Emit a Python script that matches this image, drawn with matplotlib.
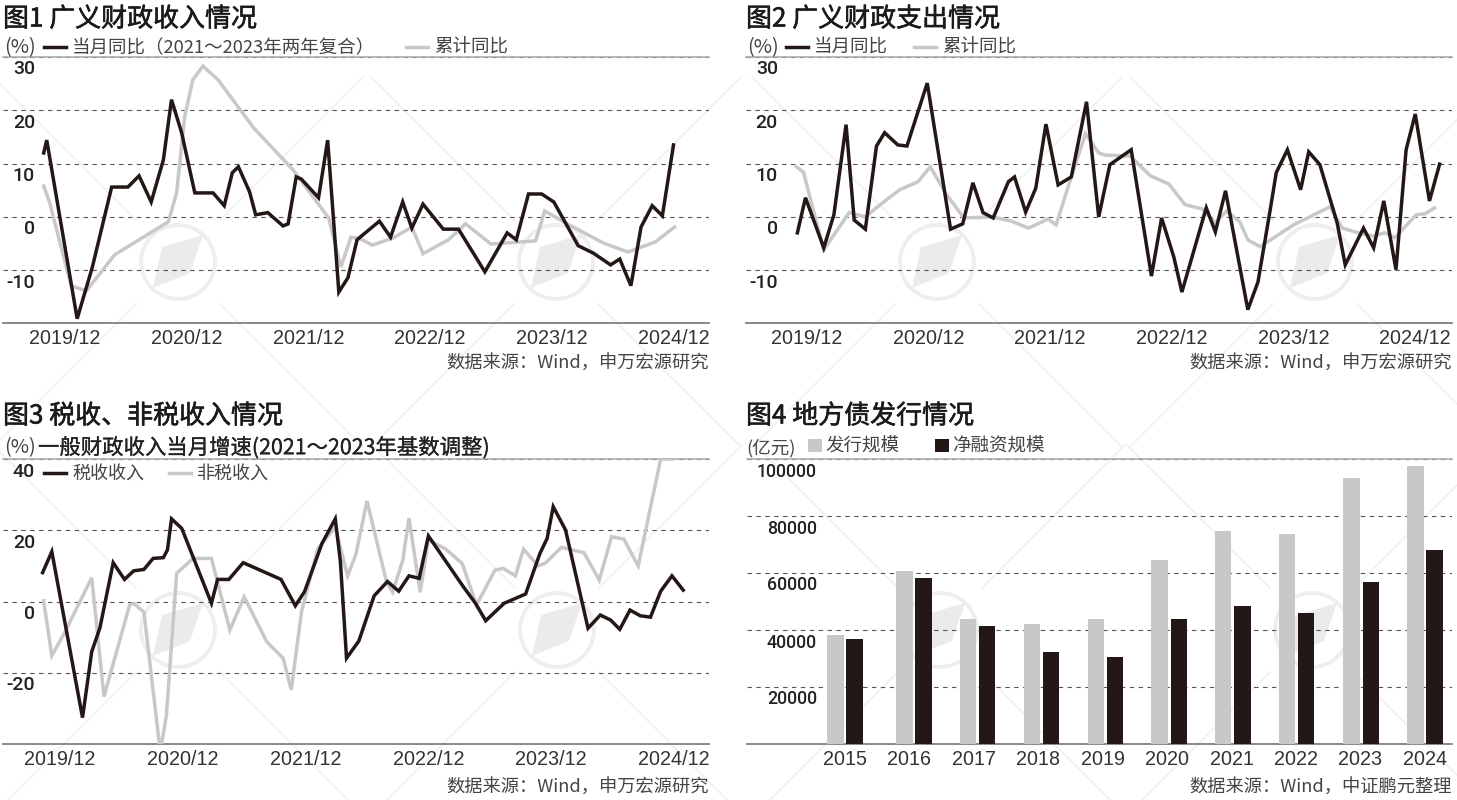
import matplotlib
matplotlib.use("Agg")
import matplotlib.pyplot as plt
import matplotlib.patheffects as pe
from matplotlib.transforms import ScaledTranslation
from matplotlib.patches import Circle, Polygon

CJK = ['Noto Sans CJK SC', 'DejaVu Sans']
plt.rcParams['font.family'] = CJK

W, H = 1457, 800
BLACK = '#231815'
GRAY = '#c8c8c8'
TXT = '#444444'

year_labels = ['2019/12', '2020/12', '2021/12', '2022/12', '2023/12', '2024/12']
year_ticks = [0, 12, 24, 36, 48, 60]

# months after 2019/12 and percent values
fig1_month_m = [-2.1,-1.8,1.2,2.7,4.6,6.2,7.3,8.5,9.7,10.5,11.5,12.8,14.6,15.7,16.5,17.1,18.2,18.8,20.0,21.5,22.0,22.8,23.3,25.0,25.9,27.0,27.9,28.8,29.1,31.0,32.1,33.3,34.2,35.3,37.3,38.8,41.4,43.6,44.5,45.7,47.0,48.2,50.6,52.1,53.8,54.7,55.8,56.8,57.9,58.9,60.0]
fig1_month_v = [12.0,14.4,-19.1,-9.4,5.6,5.6,7.7,2.8,10.7,22.0,15.8,4.5,4.5,2.1,8.3,9.4,4.7,0.4,0.8,-1.7,-1.3,7.5,7.1,3.6,14.4,-14.1,-11.4,-4.3,-3.8,-0.8,-3.8,2.8,-2.1,2.4,-2.3,-2.3,-10.3,-3.0,-4.3,4.3,4.3,2.8,-5.4,-6.8,-9.0,-7.9,-12.9,-1.9,2.1,0.2,13.5]
fig1_cum_m = [-2.1,-1.5,0.6,2.1,4.9,10.2,11.0,11.8,12.6,13.6,15.1,18.6,22.5,26.0,27.2,28.2,29.1,30.3,32.4,34.2,35.3,37.8,39.5,42.0,46.4,47.3,50.1,53.1,55.5,58.2,60.1]
fig1_cum_v = [5.8,2.6,-12.9,-13.9,-7.1,-0.9,4.5,18.8,25.7,28.3,25.7,16.7,8.8,-0.2,-9.4,-3.8,-4.1,-5.3,-3.9,-1.9,-6.9,-4.3,-1.3,-5.1,-4.5,1.1,-1.9,-4.9,-6.6,-4.7,-1.9]

fig2_month_m = [-0.9,-0.1,1.7,2.7,3.9,4.7,5.8,6.9,7.7,9.0,9.9,11.9,14.2,15.4,16.4,17.4,18.4,19.9,20.5,21.6,22.6,23.6,24.8,26.1,27.6,28.8,29.9,32.0,34.0,35.0,36.2,37.0,39.4,40.3,41.3,43.5,44.5,45.7,46.3,47.4,48.7,49.5,50.6,52.3,53.1,54.9,55.9,56.9,58.1,59.1,60.0,61.4,62.4]
fig2_month_v = [-3.0,3.6,-5.8,0.4,17.3,-0.6,-2.3,13.3,15.8,13.5,13.3,25.1,-2.3,-1.3,6.4,0.8,-0.2,6.6,7.5,0.9,5.4,17.4,6.0,7.5,21.6,0.0,9.8,12.6,-11.1,-0.2,-7.5,-14.1,1.7,-2.8,4.9,-17.4,-12.2,1.3,8.3,12.6,5.1,12.2,9.8,-1.1,-9.0,-2.1,-5.8,3.0,-9.9,12.6,19.3,3.0,9.9]
fig2_cum_m = [-1.0,-0.3,1.7,4.2,5.8,7.6,9.2,11.0,12.2,13.7,15.5,18.3,20.2,21.9,23.8,24.6,26.0,27.5,28.8,29.4,31.9,33.9,35.7,37.3,39.0,40.3,41.4,42.7,43.5,44.7,48.0,51.6,52.8,54.4,55.9,57.0,58.0,60.1,61.0,61.9]
fig2_cum_v = [9.4,8.4,-6.2,0.8,0.0,2.8,5.1,6.6,9.4,4.5,-0.2,0.0,-0.8,-2.1,-0.4,-1.5,6.9,15.6,12.0,11.6,11.4,7.7,6.2,2.3,1.5,-1.1,1.1,-0.9,-4.3,-5.6,-1.5,1.9,-2.1,-3.0,-3.6,-3.0,-3.9,0.4,0.6,1.7]

fig3_tax_m = [-1.7,-0.8,2.2,3.1,3.9,5.2,6.3,7.2,8.2,9.1,10.1,10.5,10.9,11.9,14.8,15.4,16.5,17.9,21.6,23.0,23.9,25.6,26.9,27.4,28.0,29.2,30.7,32.0,33.1,34.1,35.1,36.0,39.4,40.6,41.6,43.4,45.5,46.9,47.6,48.2,49.4,51.6,52.8,53.8,54.7,55.7,56.7,57.7,58.7,59.8,60.9]
fig3_tax_v = [8.1,14.0,-32.6,-14.1,-7.4,10.9,6.2,8.6,9.0,12.1,12.3,14.5,23.2,20.5,-0.5,6.2,6.2,10.9,6.2,-1.2,2.8,16.3,23.2,11.2,-15.9,-11.1,1.6,5.6,2.9,7.2,6.5,18.4,4.2,-0.5,-5.4,-0.5,2.1,13.5,17.7,26.6,20.1,-7.5,-3.8,-5.2,-7.8,-2.4,-4.0,-4.4,2.9,7.2,3.2]
fig3_nontax_m = [-1.6,-0.8,0.5,3.1,4.3,6.8,7.2,8.2,9.8,10.4,11.4,13.0,14.8,16.6,18.0,20.2,21.8,22.6,23.6,25.2,26.9,28.1,28.9,30.0,31.9,32.5,33.5,34.1,35.2,36.0,37.7,39.3,40.7,42.5,43.3,44.5,45.3,46.7,47.4,49.0,51.2,52.7,53.9,55.1,56.5,58.7,59.8]
fig3_nontax_v = [0.2,-15.2,-8.5,6.7,-26.7,-1.0,-0.5,-3.0,-42.2,-31.9,7.9,12.1,12.1,-8.0,1.3,-11.3,-15.9,-24.8,-2.9,14.9,20.8,7.2,13.1,28.2,5.6,2.6,11.6,23.4,2.6,17.3,14.7,10.7,-1.0,8.8,9.3,7.2,14.7,10.0,10.7,15.2,13.7,6.0,18.2,17.5,10.0,40.0,40.0]

years = ['2015','2016','2017','2018','2019','2020','2021','2022','2023','2024']
issuance = [38200,60700,43800,42200,43800,64500,74700,73800,93300,97400]
net_financing = [36800,58400,41300,32300,30400,43800,48300,46000,56900,68100]
bar_pos = [0,1.07,2.06,3.05,4.04,5.03,6.02,7.01,8.01,9]

fig = plt.figure(figsize=(W/100, H/100), dpi=100, facecolor='white')

# faint watermark layer
bg = fig.add_axes([0, 0, 1, 1], zorder=-5)
bg.set_xlim(0, W); bg.set_ylim(H, 0); bg.axis('off')
logos = [(178,262),(556,262),(937,262),(1315,262),(178,630),(557,630),(940,630),(1312,630)]
for cx, cy in logos:
    bg.add_patch(Circle((cx, cy), 37, fill=False, ec='#eeeeee', lw=2.8))
    bg.add_patch(Polygon([(cx-16,cy-15),(cx+25,cy-27),(cx+12,cy+11),(cx-25,cy+26)], fc='#ebebeb', ec='none'))
    for sx in (-1, 1):
        for sy in (-1, 1):
            bg.plot([cx+sx*42, cx+sx*185], [cy+sy*42, cy+sy*185], color='#f1f1f1', lw=1.3)


def make_ax(l, t, r, b):
    ax = fig.add_axes([l/W, 1-b/H, (r-l)/W, (b-t)/H])
    ax.patch.set_alpha(0)
    for s in ('left', 'right'):
        ax.spines[s].set_visible(False)
    ax.spines['top'].set_color('#a8a8a8'); ax.spines['top'].set_linewidth(1.1)
    ax.spines['bottom'].set_color('#808080'); ax.spines['bottom'].set_linewidth(1.3)
    ax.set_axisbelow(True)
    ax.yaxis.grid(True, color='#555555', lw=0.8, linestyle=(0, (4, 4)))
    ax.xaxis.grid(False)
    return ax


def style_ticks(ax, yticks, ylabels, dx, dy, size=14):
    ax.tick_params(axis='both', length=0, pad=0)
    ax.tick_params(axis='x', pad=4)
    ax.set_yticks(yticks)
    ax.set_yticklabels(ylabels, family='Roboto', fontweight='medium', fontsize=size, color='#222222', ha='right', va='center')
    off = ScaledTranslation(dx/100, dy/100, fig.dpi_scale_trans)
    for lab in ax.get_yticklabels():
        lab.set_transform(lab.get_transform() + off)
    for lab in ax.get_xticklabels():
        lab.set_fontfamily('Liberation Sans')
        lab.set_fontsize(14.2)
        lab.set_color('#333333')


def ftext(x, y, s, **kw):
    # Noto CJK glyphs sit above the box centre, so nudge down by 3 px
    return fig.text(x/W, 1-(y+3)/H, s, va='center', **kw)


def line_panel(rect, origin, per_year, ylim, yticks, ylabels, s1, s2, lab1, lab2, leg):
    l, t, r, b = rect
    ax = make_ax(l, t, r, b)
    pm = per_year/12
    ax.set_xlim((l-origin)/pm, (r-origin)/pm)
    ax.set_ylim(*ylim)
    ax.plot(s2[0], s2[1], color=GRAY, lw=2.5, label=lab2, solid_joinstyle='miter', zorder=3)
    ax.plot(s1[0], s1[1], color=BLACK, lw=2.5, label=lab1, solid_joinstyle='miter', zorder=4)
    ax.set_xticks(year_ticks)
    ax.set_xticklabels(year_labels)
    style_ticks(ax, yticks, ylabels, 32, -12.5)
    h, lb = ax.get_legend_handles_labels()
    fs_px = leg['size']/0.72
    ax.legend(h[::-1], lb[::-1], loc='center left', bbox_to_anchor=(leg['x']/W, 1-(leg['y']+3)/H),
              bbox_transform=fig.transFigure, ncol=2, frameon=False, fontsize=leg['size'],
              labelcolor=TXT, handlelength=22/fs_px, handletextpad=6/fs_px,
              columnspacing=leg['gap']/fs_px, borderpad=0, borderaxespad=0)
    return ax


SRC = dict(fontsize=13.15, color=TXT, ha='right')
TTL = dict(fontsize=18.7, color='#1a1a1a', ha='left',
           path_effects=[pe.withStroke(linewidth=0.4, foreground='#1a1a1a')])
UNIT = dict(fontsize=14.3, color=TXT, ha='left')

# Figure 1
line_panel((3, 57, 709, 323.5), 65, 121.7, (-20, 30), [-10, 0, 10, 20, 30], ['-10', '0', '10', '20', '30'],
           (fig1_month_m, fig1_month_v), (fig1_cum_m, fig1_cum_v),
           '当月同比（2021～2023年两年复合）', '累计同比', dict(x=44, y=45, size=13.3, gap=31))
ftext(3, 16, '图1 广义财政收入情况', **TTL)
ftext(4, 45, '(%)', **UNIT)
ftext(709, 361, '数据来源：Wind，申万宏源研究', **SRC)

# Figure 2
line_panel((746, 57, 1452, 323.5), 806.5, 121.75, (-20, 30), [-10, 0, 10, 20, 30], ['-10', '0', '10', '20', '30'],
           (fig2_month_m, fig2_month_v), (fig2_cum_m, fig2_cum_v),
           '当月同比', '累计同比', dict(x=786, y=45, size=13.3, gap=26))
ftext(746, 16, '图2 广义财政支出情况', **TTL)
ftext(747, 45, '(%)', **UNIT)
ftext(1452, 361, '数据来源：Wind，申万宏源研究', **SRC)

# Figure 3
line_panel((3, 459, 709, 744), 60, 122.8, (-40, 40), [-20, 0, 20, 40], ['-20', '0', '20', '40'],
           (fig3_tax_m, fig3_tax_v), (fig3_nontax_m, fig3_nontax_v),
           '税收收入', '非税收入', dict(x=44, y=471, size=13, gap=25))
ftext(3, 413, '图3 税收、非税收入情况', **TTL)
ftext(4, 445, '(%)', **UNIT)
ftext(38, 445, '一般财政收入当月增速(2021～2023年基数调整)', fontsize=15.4, color='#222222', ha='left',
      path_effects=[pe.withStroke(linewidth=0.2, foreground='#222222')])
ftext(709, 785, '数据来源：Wind，申万宏源研究', **SRC)

# Figure 4
ax4 = make_ax(747, 459, 1452, 744)
step = 64.44
ax4.set_xlim((747-845)/step, (1452-845)/step)
ax4.set_ylim(0, 100000)
bw = 16.3/step
off = 9.6/step
ax4.bar([p-off for p in bar_pos], issuance, width=bw, color=GRAY, label='发行规模', zorder=3)
ax4.bar([p+off for p in bar_pos], net_financing, width=bw, color=BLACK, label='净融资规模', zorder=3)
ax4.set_xticks(range(len(years)))
ax4.set_xticklabels(years)
style_ticks(ax4, [20000, 40000, 60000, 80000, 100000], ['20000', '40000', '60000', '80000', '100000'], 70, -12.5, size=12.8)
fs_px = 13.3/0.72
ax4.legend(loc='center left', bbox_to_anchor=(808/W, 1-447/H), bbox_transform=fig.transFigure, ncol=2,
           frameon=False, fontsize=13.3, labelcolor=TXT, handlelength=14/fs_px, handleheight=0.75,
           handletextpad=3/fs_px, columnspacing=36/fs_px, borderpad=0, borderaxespad=0)
ftext(746, 413, '图4 地方债发行情况', **TTL)
ftext(746, 445, '(亿元)', fontsize=13.3, color=TXT, ha='left')
ftext(1452, 785, '数据来源：Wind，中证鹏元整理', **SRC)

fig.savefig('out.png', dpi=100)
